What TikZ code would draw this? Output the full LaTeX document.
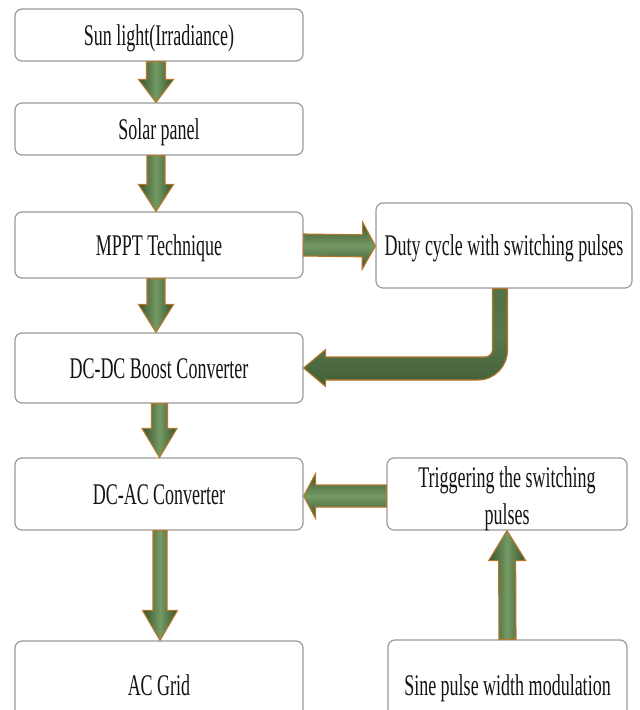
\documentclass[tikz,border=0pt]{standalone}
\usepackage{fontspec}
\setmainfont{Liberation Serif}[FakeStretch=0.6]
\usetikzlibrary{calc}
\definecolor{boxgray}{RGB}{155,155,155}
\definecolor{arrdark}{RGB}{56,82,46}
\definecolor{arrmid}{RGB}{82,114,70}
\definecolor{arrlight}{RGB}{116,154,100}
\definecolor{arredge}{RGB}{184,118,42}
\definecolor{txt}{RGB}{20,20,20}
\tikzset{
  box/.style={draw=boxgray, line width=1.2pt, rounded corners=7pt, fill=white,
    inner sep=0pt, text=txt, font=\fontsize{30}{37}\selectfont,
    text height=20pt, text depth=0pt},
  arrowbase/.style={draw=arredge, line width=1.1pt, line join=miter},
  vshade/.style={left color=arrdark, right color=arrdark, middle color=arrlight},
  hshade/.style={top color=arrdark, bottom color=arrdark, middle color=arrlight},
}
\newcommand{\blockarrow}[6][]{%
  \coordinate (baH) at ($(#3)!#6!(#2)$);
  \path[arrowbase,#1] ($(#2)!#4!90:(#3)$) -- ($(baH)!#4!90:(#3)$) -- ($(baH)!#5!90:(#3)$)
    -- (#3) -- ($(baH)!#5!-90:(#3)$) -- ($(baH)!#4!-90:(#3)$) -- ($(#2)!#4!-90:(#3)$) -- cycle;
}
\begin{document}
\begin{tikzpicture}[x=1pt,y=-1pt]
\useasboundingbox[fill=white] (0,0) rectangle (640,710);
% boxes
\node[box, minimum width=288pt, minimum height=52pt] (sun) at (159,35) {Sun light(Irradiance)};
\node[box, minimum width=288pt, minimum height=52pt] (solar) at (159,129) {Solar panel};
\node[box, minimum width=288pt, minimum height=66pt] (mppt) at (159,245) {MPPT Technique};
\node[box, minimum width=288pt, minimum height=70pt] (dcdc) at (159,368) {DC-DC Boost Converter};
\node[box, minimum width=288pt, minimum height=72pt] (dcac) at (159,494) {DC-AC Converter};
\node[box, minimum width=288pt, minimum height=88pt] (grid) at (159,685) {AC Grid};
\node[box, minimum width=256pt, minimum height=85pt] (duty) at (504,245.5) {Duty cycle with switching pulses};
\node[box, minimum width=240pt, minimum height=72pt] (trig) at (507,494) {};
\node[text=txt, font=\fontsize{30}{37}\selectfont, align=center, inner sep=0pt]
  (trigtext) at ($(trig.center)+(0,4.5)$) {Triggering the switching\\pulses};
\node[box, minimum width=239pt, minimum height=90pt] (sine) at (507.5,685) {Sine pulse width modulation};
% connector end points
\coordinate (a1s) at ($(sun.south)+(-3,0)$);   \coordinate (a1e) at ($(solar.north)+(-3,0)$);
\coordinate (a2s) at ($(solar.south)+(-3,0)$); \coordinate (a2e) at ($(mppt.north)+(-3,0)$);
\coordinate (a3s) at ($(mppt.south)+(-3,0)$);  \coordinate (a3e) at ($(dcdc.north)+(-3,0)$);
\coordinate (a4s) at ($(dcdc.south)+(0.5,0)$); \coordinate (a4e) at ($(dcac.north)+(0.5,0)$);
\coordinate (a5s) at ($(dcac.south)+(1,0)$);   \coordinate (a5e) at ($(grid.north)+(1,0)$);
\coordinate (a6s) at (sine.north);             \coordinate (a6e) at (trig.south);
\coordinate (a7s) at (mppt.east);              \coordinate (a7e) at ($(duty.west)+(0,0.5)$);
\coordinate (a8s) at ($(trig.west)+(0,2)$);    \coordinate (a8e) at ($(dcac.east)+(0,2)$);
% block arrows
\blockarrow[vshade]{a1s}{a1e}{9.5pt}{17.5pt}{23pt}
\blockarrow[vshade]{a2s}{a2e}{9pt}{17.5pt}{27pt}
\blockarrow[vshade]{a3s}{a3e}{9pt}{17.5pt}{28pt}
\blockarrow[vshade]{a4s}{a4e}{8pt}{17.5pt}{29pt}
\blockarrow[vshade]{a5s}{a5e}{7pt}{17.5pt}{30pt}
\blockarrow[vshade]{a6s}{a6e}{8.5pt}{18.5pt}{30pt}
\blockarrow[hshade]{a7s}{a7e}{11pt}{23.5pt}{13pt}
\blockarrow[hshade]{a8s}{a8e}{11pt}{22.5pt}{12pt}
% bent arrow from duty cycle box to DC-DC converter
\coordinate (bs) at ($(duty.south)+(-4,0)$);
\coordinate (be) at (dcdc.east);
\path[arrowbase, top color=arrmid, bottom color=arrdark!60!arrmid, middle color=arrmid!85!arrlight]
  let \p1=(bs), \p2=(be) in
  (\x1-7.5pt,\y1) -- (\x1+7.5pt,\y1) -- (\x1+7.5pt,\y2+18pt)
  .. controls (\x1+7.5pt,\y2+1.5pt) and (\x1-5.5pt,\y2-12pt) .. (\x1-22pt,\y2-12pt)
  -- (\x2+22pt,\y2-12pt) -- (\x2+22pt,\y2-18.5pt) -- (\x2,\y2) -- (\x2+22pt,\y2+18.5pt)
  -- (\x2+22pt,\y2+11pt) -- (\x1-15pt,\y2+11pt)
  .. controls (\x1-11pt,\y2+11pt) and (\x1-7.5pt,\y2+14.5pt) .. (\x1-7.5pt,\y2+18.5pt)
  -- cycle;
\end{tikzpicture}
\end{document}
